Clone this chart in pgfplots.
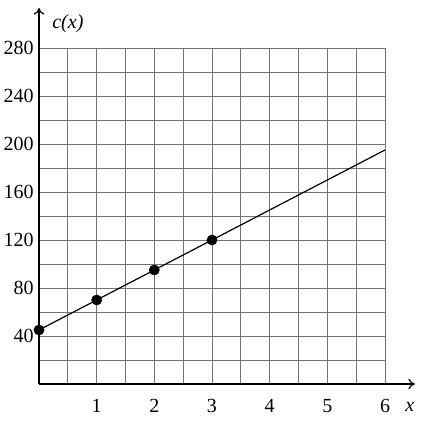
\documentclass[border=0pt]{standalone}
\usepackage{pgfplots}
\pgfplotsset{compat=1.18}
\usepackage{fontspec}
\setmainfont{Liberation Serif}
\usetikzlibrary{arrows.meta}
\begin{document}
\begin{tikzpicture}
\path[use as bounding box] (-29.25pt,-33pt) rectangle (286.5pt,288pt);
\begin{axis}[
  anchor=origin, at={(0,0)},
  scale only axis,
  width=259.5pt, height=252pt,
  xmin=0, xmax=6, ymin=0, ymax=280,
  axis lines=left,
  x axis line style={-{To[length=5pt,width=8pt]}, shorten >=-22.5pt, line width=0.9pt},
  y axis line style={-{To[length=5pt,width=8pt]}, shorten >=-30pt, line width=0.9pt},
  xtick={1,2,3,4,5,6},
  ytick={40,80,120,160,200,240,280},
  minor xtick={0.5,1.5,2.5,3.5,4.5,5.5},
  minor ytick={20,60,100,140,180,220,260},
  grid=both,
  major grid style={black!55, line width=0.5pt},
  minor grid style={black!55, line width=0.5pt},
  major tick length=0pt, minor tick length=0pt,
  tick label style={font=\fontsize{15}{17}\selectfont},
  xticklabel style={yshift=-8pt},
  yticklabel style={xshift=-0.5pt},
  /pgf/number format/assume math mode=true,
  clip=false,
]
\addplot[black, line width=0.9pt] coordinates {(0,45) (6,195)};
\addplot[only marks, mark=*, mark size=3.8pt, black] coordinates {(0,45) (1,70) (2,95) (3,120)};
\node[anchor=west, font=\fontsize{15}{17}\selectfont\itshape] at (axis cs:0.15,300) {c(x)};
\node[font=\fontsize{15}{17}\selectfont\itshape] at (axis cs:6.43,-19) {x};
\end{axis}
\end{tikzpicture}
\end{document}
